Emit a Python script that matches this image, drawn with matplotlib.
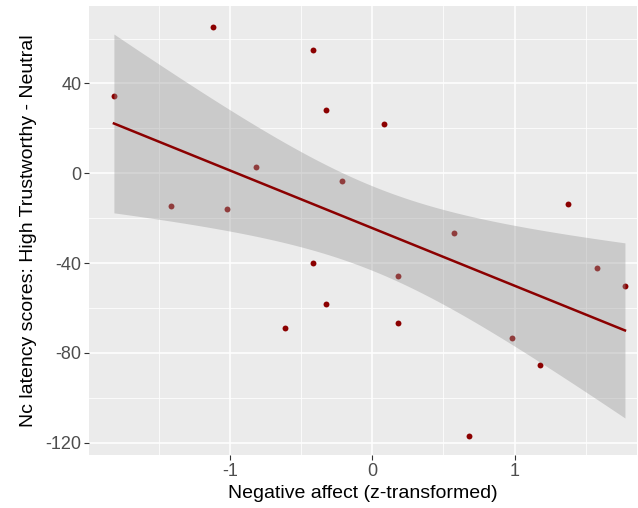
import numpy as np
from matplotlib import pyplot as plt

# negative affect (z) vs Nc latency score
neg_affect = [-1.815, -1.12, -1.415, -1.02, -0.818, -0.418, -0.326, -0.213,
              0.082, -0.418, -0.614, -0.326, 0.18, 0.18, 0.574, 0.68,
              0.98, 1.18, 1.376, 1.58, 1.775]
nc_score = [34.5, 65.3, -14.5, -16.0, 2.8, 54.7, 28.3, -3.4,
            22.0, -40.0, -68.8, -58.3, -45.8, -66.8, -26.7, -116.9,
            -73.5, -85.5, -13.8, -42.3, -50.2]

xticks = [-1, 0, 1]
yticks = [-120, -80, -40, 0, 40]

plt.rcParams['font.family'] = ['Liberation Sans', 'DejaVu Sans']
plt.rcParams['axes.unicode_minus'] = False

x = np.array(neg_affect)
y = np.array(nc_score)

# lm fit with 95% confidence band (like geom_smooth(method='lm'))
n = len(x)
slope, icpt = np.polyfit(x, y, 1)
resid = y - (slope * x + icpt)
s = np.sqrt(np.sum(resid ** 2) / (n - 2))
t_crit = 2.093  # t(0.975, df=19)
xs = np.linspace(x.min(), x.max(), 80)
ys = slope * xs + icpt
se = s * np.sqrt(1 / n + (xs - x.mean()) ** 2 / np.sum((x - x.mean()) ** 2))

fig = plt.figure(figsize=(6.38, 5.08), dpi=100)
ax = fig.add_axes([0.1395, 0.1043, 0.8590, 0.8838])
ax.set_facecolor('#EBEBEB')

ax.scatter(x, y, s=18, color='#8B0000', linewidths=0, zorder=3)
ax.fill_between(xs, ys - t_crit * se, ys + t_crit * se,
                color='#999999', alpha=0.4, linewidth=0, zorder=4)
ax.plot(xs, ys, color='#8B0000', linewidth=1.8, zorder=5)

ax.set_xlim(-1.99, 1.86)
ax.set_ylim(-125.5, 74.5)
ax.set_xticks(xticks)
ax.set_yticks(yticks)
ax.set_xticks([-1.5, -0.5, 0.5, 1.5], minor=True)
ax.set_yticks([-100, -60, -20, 20, 60], minor=True)
ax.grid(which='major', color='white', linewidth=1.1, zorder=0)
ax.grid(which='minor', color='white', linewidth=0.55, zorder=0)
ax.set_axisbelow(True)
for sp in ax.spines.values():
    sp.set_visible(False)
ax.tick_params(which='major', length=3.5, width=0.8, color='#333333',
               labelcolor='#4D4D4D', labelsize=13, pad=2)
ax.tick_params(which='minor', length=0)

ax.set_xlabel('Negative affect (z-transformed)', fontsize=14, labelpad=4)
ax.set_ylabel('Nc latency scores: High Trustworthy - Neutral', fontsize=14,
              labelpad=6)

plt.savefig('out.png', dpi=100)
